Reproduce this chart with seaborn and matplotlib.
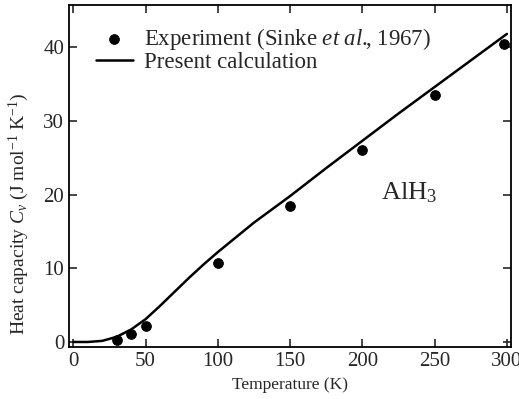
import matplotlib
matplotlib.use("Agg")
import matplotlib.pyplot as plt
import seaborn as sns
import pandas as pd

# experimental points (Sinke et al., 1967)
exp_T = [30, 40, 50, 100, 150, 200, 250, 298]
exp_cv = [0.3, 1.1, 2.2, 10.7, 18.5, 26.0, 33.5, 40.5]

# present calculation
calc_T = [0, 10, 20, 30, 40, 50, 60, 70, 80, 90, 100, 125, 150, 175, 200, 225, 250, 275, 300]
calc_cv = [0.0, 0.0, 0.15, 0.7, 1.7, 3.1, 4.9, 6.8, 8.7, 10.5, 12.2, 16.2, 19.8, 23.6, 27.3,
           31.0, 34.6, 38.2, 41.8]

sns.set_style("ticks")
plt.rcParams["font.family"] = ["Liberation Serif", "DejaVu Serif"]
plt.rcParams["mathtext.fontset"] = "custom"
plt.rcParams["mathtext.rm"] = "Liberation Serif"
plt.rcParams["mathtext.it"] = "Liberation Serif:italic"

fig = plt.figure(figsize=(5.19, 3.99), dpi=100)
ax = fig.add_axes([0.133, 0.130, 0.852, 0.857])

exp = pd.DataFrame({"T": exp_T, "Cv": exp_cv})
calc = pd.DataFrame({"T": calc_T, "Cv": calc_cv})

sns.scatterplot(data=exp, x="T", y="Cv", ax=ax, color="black", s=50, edgecolor="black",
                label="Experiment (Sinke $\\mathit{et\\ al.}\\!\\!$, 1967)", zorder=3)
sns.lineplot(data=calc, x="T", y="Cv", ax=ax, color="black", linewidth=1.8,
             label="Present calculation")

ax.set_xlim(-3, 303)
ax.set_ylim(-0.7, 45.7)
ax.set_xticks([0, 50, 100, 150, 200, 250, 300])
ax.set_yticks([0, 10, 20, 30, 40])
ax.tick_params(direction="in", top=True, right=True, length=6, width=1.2, labelsize=15)
for s in ax.spines.values():
    s.set_linewidth(1.3)
    s.set_color("black")

ax.set_xlabel("Temperature (K)", fontsize=12.5)
ax.set_ylabel("Heat capacity $\\mathit{C}_v$ (J mol$^{-1}$ K$^{-1}$)", fontsize=14)
ax.yaxis.set_label_coords(-0.085, 0.39)
ax.text(213, 19.3, "AlH$_3$", fontsize=19)

ax.legend(loc="upper left", bbox_to_anchor=(0.04, 0.965), frameon=False, fontsize=16.5,
          handlelength=1.6, handletextpad=0.5, borderaxespad=0.0, labelspacing=0.0)

fig.savefig("out.png", dpi=100)
